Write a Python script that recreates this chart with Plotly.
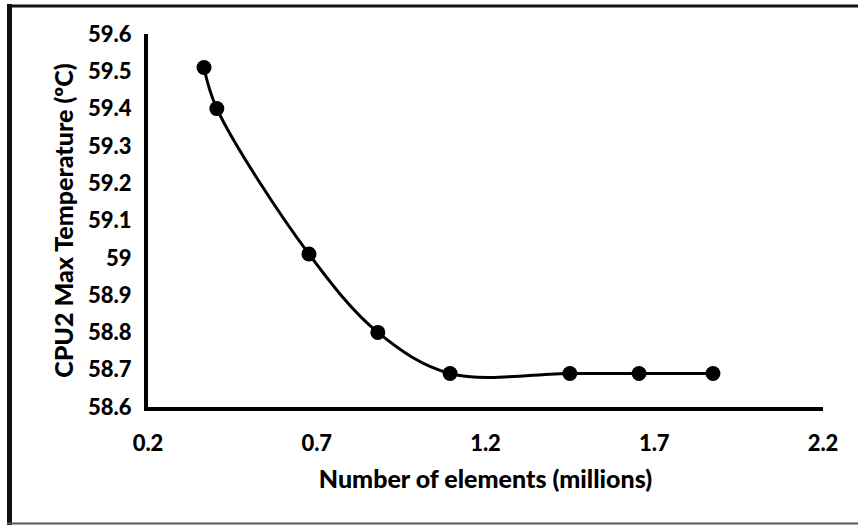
import plotly.graph_objects as go

# Mesh convergence study: CPU2 max temperature vs. mesh size
elements_millions = [0.366, 0.404, 0.677, 0.881, 1.095, 1.45, 1.655, 1.874]
cpu2_max_temp = [59.51, 59.40, 59.01, 58.80, 58.69, 58.69, 58.69, 58.69]

x_ticks = [0.2, 0.7, 1.2, 1.7, 2.2]
y_ticks = [58.6, 58.7, 58.8, 58.9, 59.0, 59.1, 59.2, 59.3, 59.4, 59.5, 59.6]
y_tick_text = ["58.6", "58.7", "58.8", "58.9", "59", "59.1", "59.2", "59.3", "59.4", "59.5", "59.6"]

W, H = 858, 525
L, R, T, B = 148, 35, 34, 118
FONT = "Lato"
WEIGHT = 900

fig = go.Figure()
fig.add_trace(go.Scatter(
    x=elements_millions,
    y=cpu2_max_temp,
    mode="lines+markers",
    line=dict(color="black", width=3, shape="spline", smoothing=1.0),
    marker=dict(color="black", size=15),
    showlegend=False,
))


def px_x(p):
    return (p - L) / (W - L - R)


def px_y(p):
    return (H - B - p) / (H - T - B)


# outer frame of the chart area
frame = [
    dict(x0=px_x(9.5), x1=px_x(9.5), y0=px_y(4), y1=px_y(530), width=5, color="#111111"),
    dict(x0=px_x(7), x1=px_x(870), y0=px_y(6), y1=px_y(6), width=3, color="#111111"),
    dict(x0=px_x(7), x1=px_x(870), y0=px_y(523.5), y1=px_y(523.5), width=2, color="#555555"),
]
shapes = [
    dict(type="line", xref="paper", yref="paper", x0=f["x0"], x1=f["x1"], y0=f["y0"], y1=f["y1"],
         line=dict(color=f["color"], width=f["width"]))
    for f in frame
]

fig.update_layout(
    width=W, height=H,
    margin=dict(l=L, r=R, t=T, b=B),
    paper_bgcolor="white", plot_bgcolor="white",
    font=dict(family=FONT, color="black"),
    shapes=shapes,
    xaxis=dict(
        range=[0.2, 2.2], tickvals=x_ticks, ticktext=[str(v) for v in x_ticks],
        showgrid=False, zeroline=False, showline=True, linecolor="black", linewidth=4,
        ticks="", ticklabelstandoff=14,
        tickfont=dict(family=FONT, size=22, color="black", weight=WEIGHT),
        title=dict(text="Number of elements (millions)", standoff=16,
                   font=dict(family=FONT, size=25, color="black", weight=WEIGHT)),
    ),
    yaxis=dict(
        range=[58.6, 59.6], tickvals=y_ticks, ticktext=y_tick_text,
        showgrid=False, zeroline=False, showline=True, linecolor="black", linewidth=4,
        ticks="", ticklabelstandoff=8,
        tickfont=dict(family=FONT, size=22, color="black", weight=WEIGHT),
        title=dict(text="CPU2 Max Temperature (ºC)", standoff=8,
                   font=dict(family=FONT, size=25, color="black", weight=WEIGHT)),
    ),
)

fig.write_html("out.html")
